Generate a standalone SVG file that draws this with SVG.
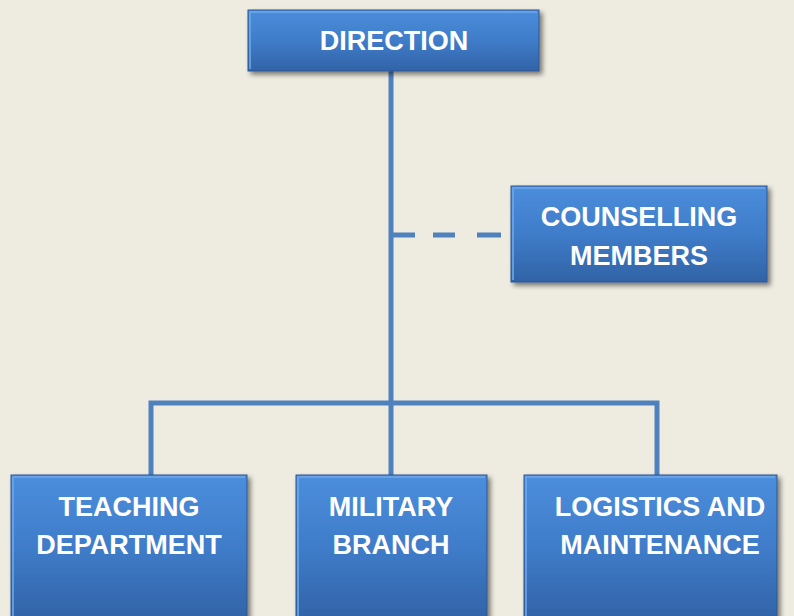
<svg xmlns="http://www.w3.org/2000/svg" width="794" height="616" viewBox="0 0 794 616">
<defs>
<linearGradient id="g" x1="0" y1="0" x2="0" y2="1">
<stop offset="0" stop-color="#4B8EDC"/>
<stop offset="0.5" stop-color="#3F7CC9"/>
<stop offset="1" stop-color="#3163A6"/>
</linearGradient>
<filter id="sh" x="-10%" y="-10%" width="125%" height="130%">
<feGaussianBlur in="SourceAlpha" stdDeviation="2.5"/>
<feOffset dx="3" dy="3"/>
<feComponentTransfer><feFuncA type="linear" slope="0.5"/></feComponentTransfer>
<feMerge><feMergeNode/><feMergeNode in="SourceGraphic"/></feMerge>
</filter>
<style>
.box{fill:url(#g);stroke:#2B5794;stroke-width:1;filter:url(#sh)}
.hl{fill:none;stroke:#6FA6EA;stroke-width:2;opacity:0.8}
.t{font-family:"Liberation Sans",Arial,sans-serif;font-weight:bold;font-size:27px;fill:#FFFFFF;text-anchor:middle}
.c{fill:none;stroke:#4F81BD;stroke-width:5}
</style>
</defs>
<rect width="794" height="616" fill="#EEEBE0"/>
<g id="connectors">
<path class="c" d="M391 71 V475"/>
<path class="c" d="M151 475 V403 H657 V475"/>
<path class="c" d="M393 235 H501" stroke-dasharray="22 18 22 22 24"/>
</g>
<g id="direction">
<rect class="box" x="248" y="10" width="291" height="61"/>
<path class="hl" d="M250 69 V12 H537"/>
<text class="t" x="394" y="50">DIRECTION</text>
</g>
<g id="counselling">
<rect class="box" x="511" y="186" width="256" height="96"/>
<path class="hl" d="M513 280 V188 H765"/>
<text class="t" x="639" y="226">COUNSELLING</text>
<text class="t" x="639" y="265">MEMBERS</text>
</g>
<g id="teaching">
<rect class="box" x="11" y="475" width="236" height="145"/>
<path class="hl" d="M13 616 V477 H245"/>
<text class="t" x="129" y="516">TEACHING</text>
<text class="t" x="129" y="554">DEPARTMENT</text>
</g>
<g id="military">
<rect class="box" x="296" y="475" width="191" height="145"/>
<path class="hl" d="M298 616 V477 H485"/>
<text class="t" x="391" y="516">MILITARY</text>
<text class="t" x="391" y="554">BRANCH</text>
</g>
<g id="logistics">
<rect class="box" x="524" y="475" width="253" height="145"/>
<path class="hl" d="M526 616 V477 H775"/>
<text class="t" x="660" y="516">LOGISTICS AND</text>
<text class="t" x="660" y="554">MAINTENANCE</text>
</g>
</svg>
